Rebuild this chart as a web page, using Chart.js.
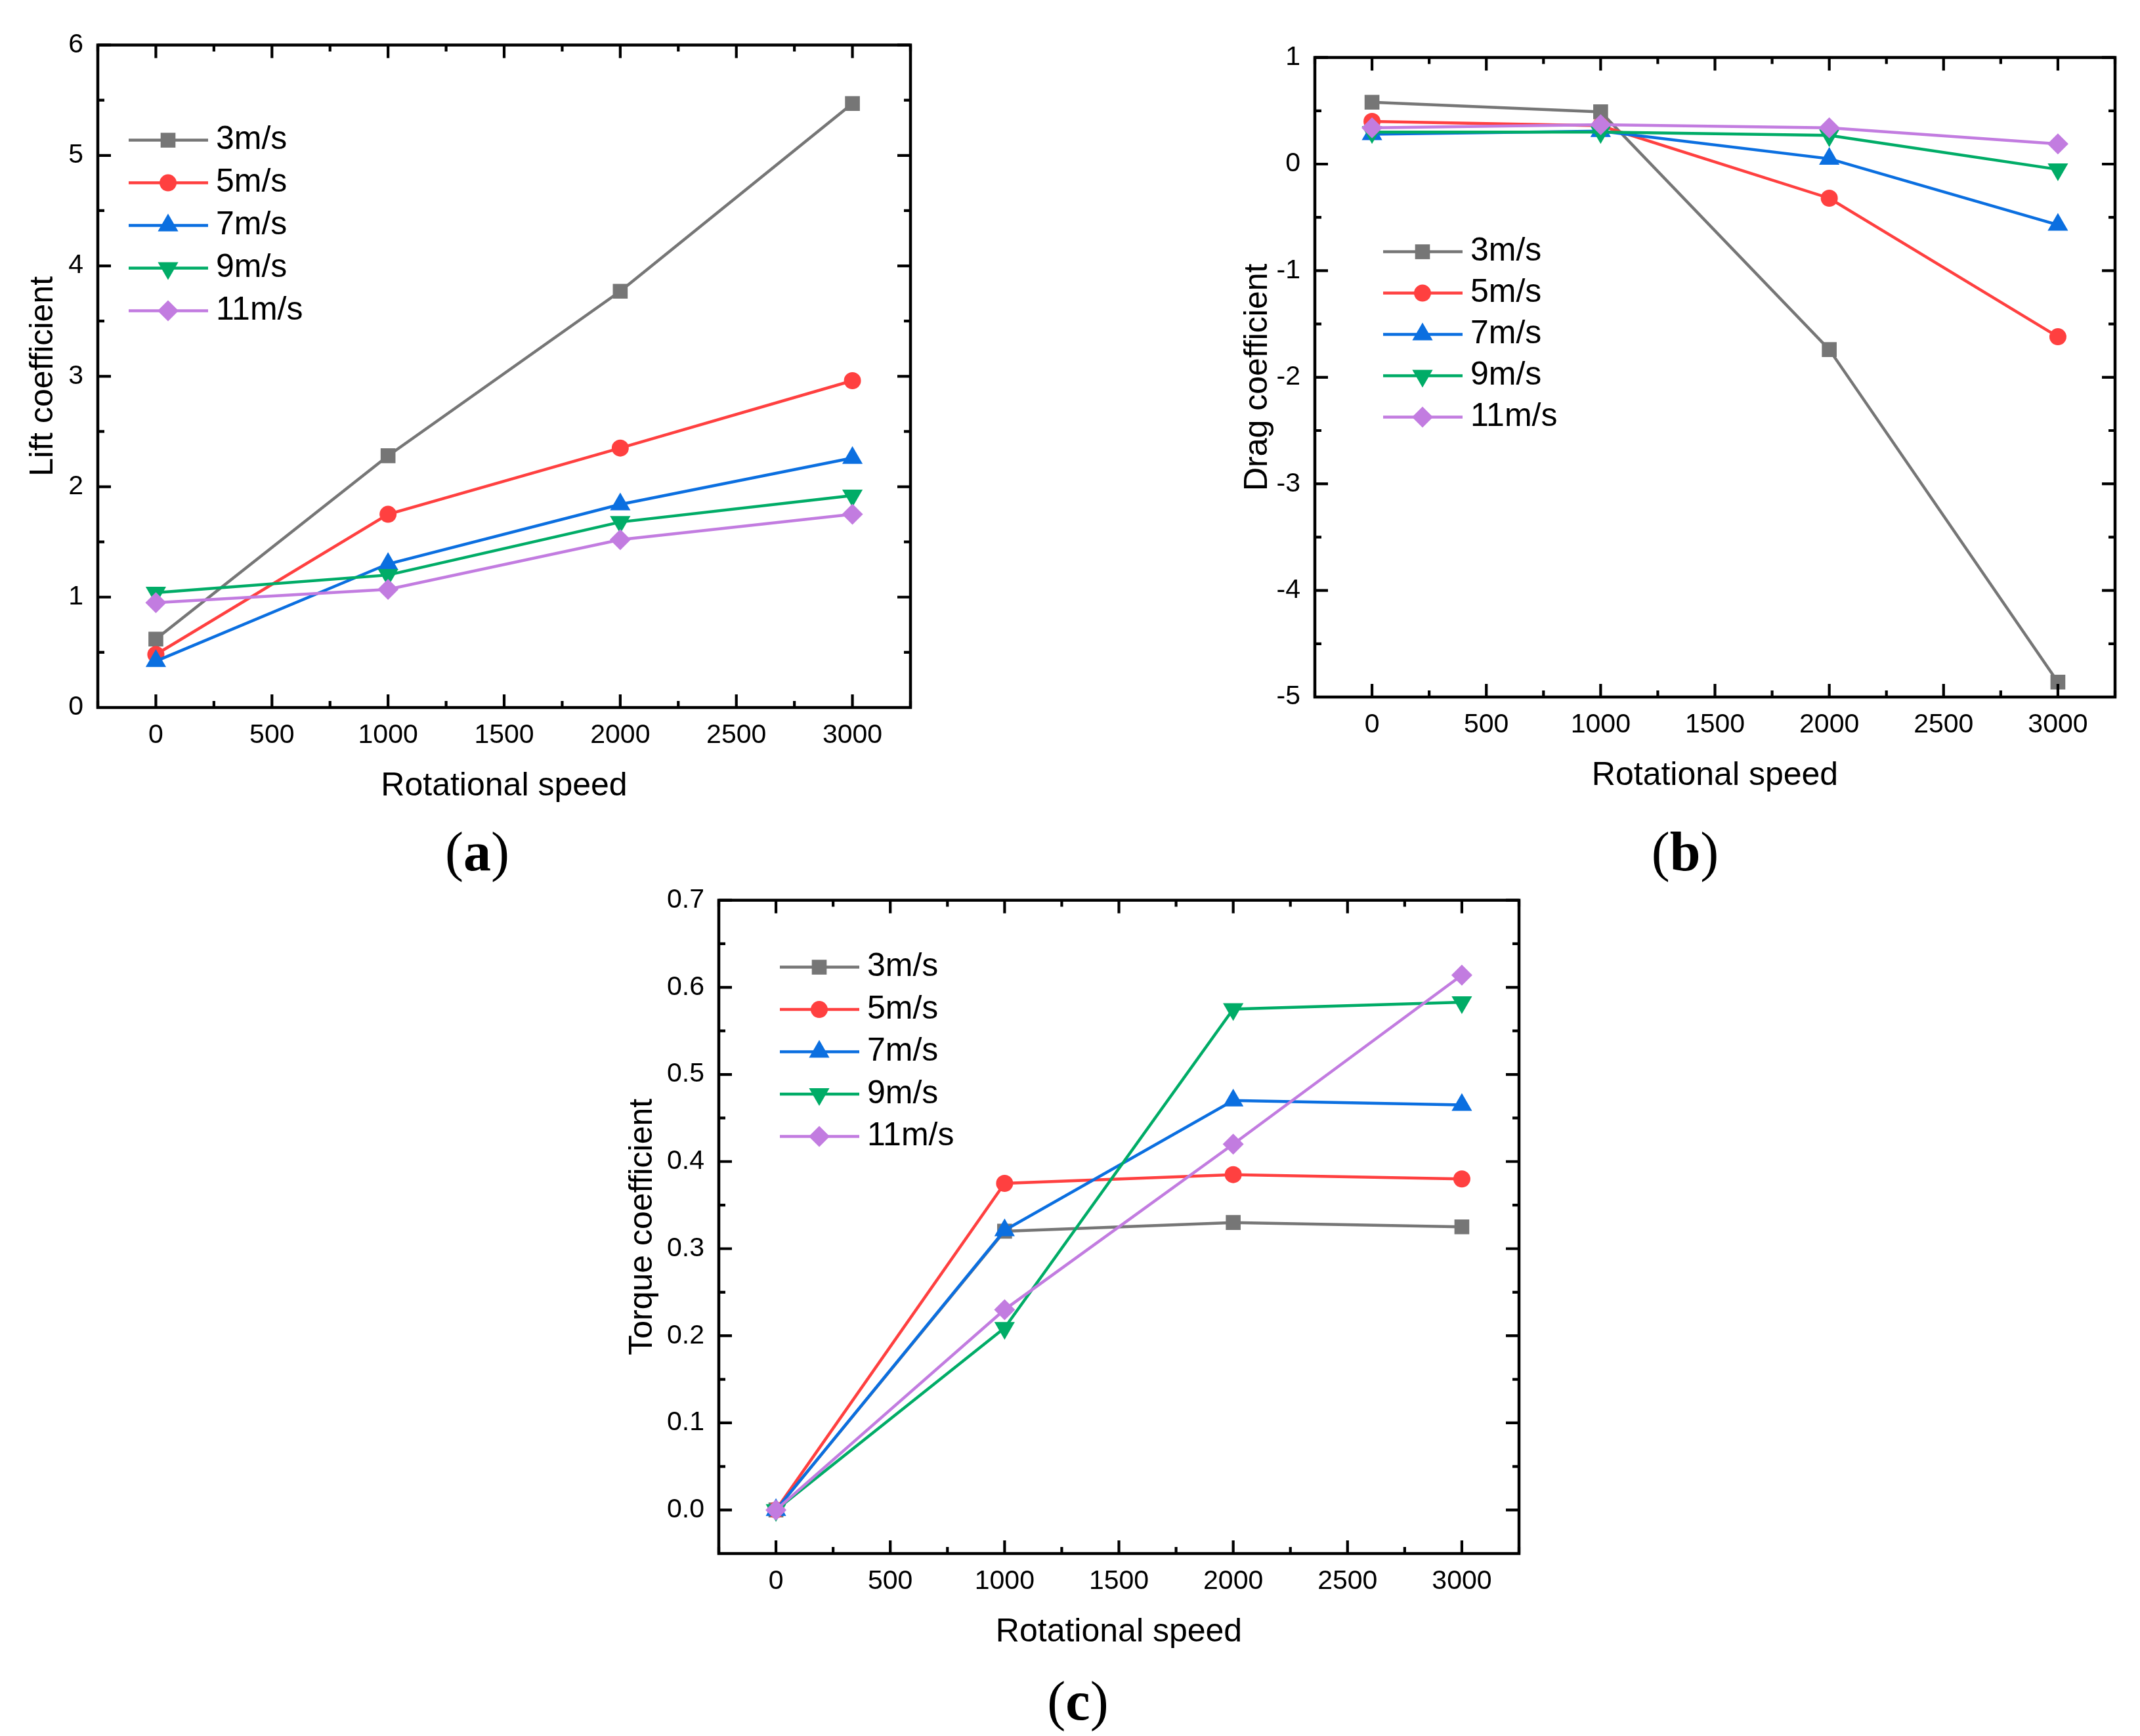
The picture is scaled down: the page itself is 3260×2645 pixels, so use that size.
<!DOCTYPE html>
<html>
<head>
<meta charset="utf-8">
<script src="https://cdn.jsdelivr.net/npm/chart.js@4.4.0/dist/chart.umd.min.js"></script>
<style>
body { margin: 0; background: #fff; width: 3260px; height: 2645px; position: relative; overflow: hidden; }
canvas { position: absolute; }
.tag { position: absolute; font-family: "Liberation Serif", "DejaVu Serif", serif; font-size: 84px; line-height: 1; transform: translate(-50%, -50%); color: #000; }
.tag b { font-weight: bold; }
</style>
</head>
<body>
<canvas id="lift"></canvas>
<canvas id="drag"></canvas>
<canvas id="torque"></canvas>
<div class="tag" style="left:727px;top:1298px">(<b>a</b>)</div>
<div class="tag" style="left:2567px;top:1298px">(<b>b</b>)</div>
<div class="tag" style="left:1642px;top:2592px">(<b>c</b>)</div>
<script>
// rotational speed (x) and the wind speed series
var speeds = [0, 1000, 2000, 3000]
var windSpeeds = ['3m/s', '5m/s', '7m/s', '9m/s', '11m/s']
var speedTicks = [0, 500, 1000, 1500, 2000, 2500, 3000]

// (a) lift coefficient
var lift3 = [0.62, 2.28, 3.77, 5.47]
var lift5 = [0.48, 1.75, 2.35, 2.96]
var lift7 = [0.42, 1.30, 1.84, 2.26]
var lift9 = [1.04, 1.20, 1.68, 1.92]
var lift11 = [0.95, 1.07, 1.52, 1.75]
var liftTicks = [0, 1, 2, 3, 4, 5, 6]

// (b) drag coefficient
var drag3 = [0.58, 0.49, -1.74, -4.86]
var drag5 = [0.40, 0.36, -0.32, -1.62]
var drag7 = [0.28, 0.31, 0.05, -0.57]
var drag9 = [0.30, 0.30, 0.27, -0.05]
var drag11 = [0.34, 0.37, 0.34, 0.19]
var dragTicks = [-5, -4, -3, -2, -1, 0, 1]

// (c) torque coefficient
var torque3 = [0, 0.320, 0.330, 0.325]
var torque5 = [0, 0.375, 0.385, 0.380]
var torque7 = [0, 0.321, 0.470, 0.465]
var torque9 = [0, 0.209, 0.575, 0.583]
var torque11 = [0, 0.230, 0.420, 0.614]
var torqueTicks = [0, 0.1, 0.2, 0.3, 0.4, 0.5, 0.6, 0.7]

var colors = ['#767676', '#FF4040', '#0B6FE0', '#00AC67', '#C27CE0']
var markers = ['rect', 'circle', 'triangle', 'triangle', 'rectRot']
var markerSize = [16, 13, 18, 18, 16]
var markerTurn = [0, 0, 0, 180, 0]

Chart.defaults.font.family = '"Liberation Sans", Arial, sans-serif'
Chart.defaults.color = '#000'

function buildSets(series)
{
	return series.map(function(vals, i)
	{
		return {
			label: windSpeeds[i],
			data: speeds.map(function(s, k){ return {x: s, y: vals[k]} }),
			borderColor: colors[i],
			backgroundColor: colors[i],
			borderWidth: 4.5,
			pointStyle: markers[i],
			pointRadius: markerSize[i],
			pointHoverRadius: markerSize[i],
			pointRotation: markerTurn[i],
			pointBackgroundColor: colors[i],
			pointBorderWidth: 0,
			tension: 0,
			fill: false,
			order: -i
		}
	})
}

function tickList(scale)
{
	var major = scale.ticks.map(function(t){ return t.value })
	var half = (major[1] - major[0]) / 2
	var list = []
	for (var k = -2; k <= major.length * 2; k++)
	{
		var v = major[0] + k * half
		if (v < scale.min - 1e-9 || v > scale.max + 1e-9)
			continue
		list.push({v: v, major: k % 2 === 0})
	}
	return list
}

// frame with inward ticks on four sides + legend inside the plot
function decorations(legendAt)
{
	return {
		id: 'decorations',
		afterDraw: function(chart)
		{
			var ctx = chart.ctx
			var a = chart.chartArea
			var xs = chart.scales.x
			var ys = chart.scales.y
			ctx.save()
			ctx.strokeStyle = '#000'
			ctx.lineWidth = 4.2
			ctx.beginPath()
			tickList(xs).forEach(function(t)
			{
				var px = xs.getPixelForValue(t.v)
				var len = t.major ? 20 : 10
				ctx.moveTo(px, a.bottom); ctx.lineTo(px, a.bottom - len)
				ctx.moveTo(px, a.top); ctx.lineTo(px, a.top + len)
			})
			tickList(ys).forEach(function(t)
			{
				var py = ys.getPixelForValue(t.v)
				var len = t.major ? 20 : 10
				ctx.moveTo(a.left, py); ctx.lineTo(a.left + len, py)
				ctx.moveTo(a.right, py); ctx.lineTo(a.right - len, py)
			})
			ctx.stroke()
			ctx.lineWidth = 4.5
			ctx.strokeRect(a.left, a.top, a.right - a.left, a.bottom - a.top)

			chart.data.datasets.forEach(function(ds, i)
			{
				var yy = a.top + legendAt.dy + i * legendAt.step
				var x0 = a.left + legendAt.dx
				ctx.strokeStyle = ds.borderColor
				ctx.lineWidth = ds.borderWidth
				ctx.beginPath()
				ctx.moveTo(x0, yy)
				ctx.lineTo(x0 + 121, yy)
				ctx.stroke()
				ctx.fillStyle = ds.pointBackgroundColor
				Chart.helpers.drawPoint(ctx, {pointStyle: ds.pointStyle, radius: ds.pointRadius, rotation: ds.pointRotation, borderWidth: 0}, x0 + 60, yy)
				ctx.fillStyle = '#000'
				ctx.font = '50px "Liberation Sans", Arial, sans-serif'
				ctx.textBaseline = 'middle'
				ctx.textAlign = 'left'
				ctx.fillText(ds.label, x0 + 133, yy)
			})
			ctx.restore()
		}
	}
}

function makeChart(id, box, series, yMin, yMax, yTicks, yTitle, axisW, titleGap, legendAt, fmt)
{
	var canvas = document.getElementById(id)
	var top = 40, right = 30, bottomH = 150
	canvas.width = box.r - box.l + axisW + right
	canvas.height = box.b - box.t + top + bottomH
	canvas.style.left = (box.l - axisW) + 'px'
	canvas.style.top = (box.t - top) + 'px'

	return new Chart(canvas, {
		type: 'line',
		data: { datasets: buildSets(series) },
		options: {
			responsive: false,
			animation: false,
			devicePixelRatio: 1,
			events: [],
			layout: { padding: { top: top, right: right, left: 0, bottom: 0 } },
			plugins: { legend: { display: false }, tooltip: { enabled: false } },
			scales: {
				x: {
					type: 'linear',
					min: -250,
					max: 3250,
					grid: { display: false, drawTicks: false },
					border: { display: false },
					ticks: { padding: 18, font: { size: 41 }, callback: function(v){ return String(v) } },
					afterBuildTicks: function(scale){ scale.ticks = speedTicks.map(function(v){ return {value: v} }) },
					title: { display: true, text: 'Rotational speed', font: { size: 50 }, padding: { top: 0, bottom: 0 } },
					afterFit: function(scale){ scale.height = bottomH }
				},
				y: {
					type: 'linear',
					min: yMin,
					max: yMax,
					grid: { display: false, drawTicks: false },
					border: { display: false },
					ticks: { padding: 22, font: { size: 41 }, callback: fmt },
					afterBuildTicks: function(scale){ scale.ticks = yTicks.map(function(v){ return {value: v} }) },
					title: { display: true, text: yTitle, font: { size: 50 }, padding: { top: axisW - 30 - titleGap, bottom: 0 } },
					afterFit: function(scale){ scale.width = axisW }
				}
			}
		},
		plugins: [decorations(legendAt)]
	})
}

var plain = function(v){ return String(v) }
var oneDecimal = function(v){ return v.toFixed(1) }

makeChart('lift', {l: 149, t: 62, r: 1387, b: 1078},
	[lift3, lift5, lift7, lift9, lift11], 0, 6, liftTicks, 'Lift coefficient', 145, 83,
	{dx: 47, dy: 145, step: 65}, plain)

makeChart('drag', {l: 2003, t: 81, r: 3222, b: 1062},
	[drag3, drag5, drag7, drag9, drag11], -5, 1, dragTicks, 'Drag coefficient', 145, 87,
	{dx: 104, dy: 296, step: 63}, plain)

makeChart('torque', {l: 1095, t: 1365, r: 2314, b: 2367},
	[torque3, torque5, torque7, torque9, torque11], -0.05, 0.7, torqueTicks, 'Torque coefficient', 150, 116,
	{dx: 93, dy: 102, step: 64.5}, oneDecimal)
</script>
</body>
</html>
